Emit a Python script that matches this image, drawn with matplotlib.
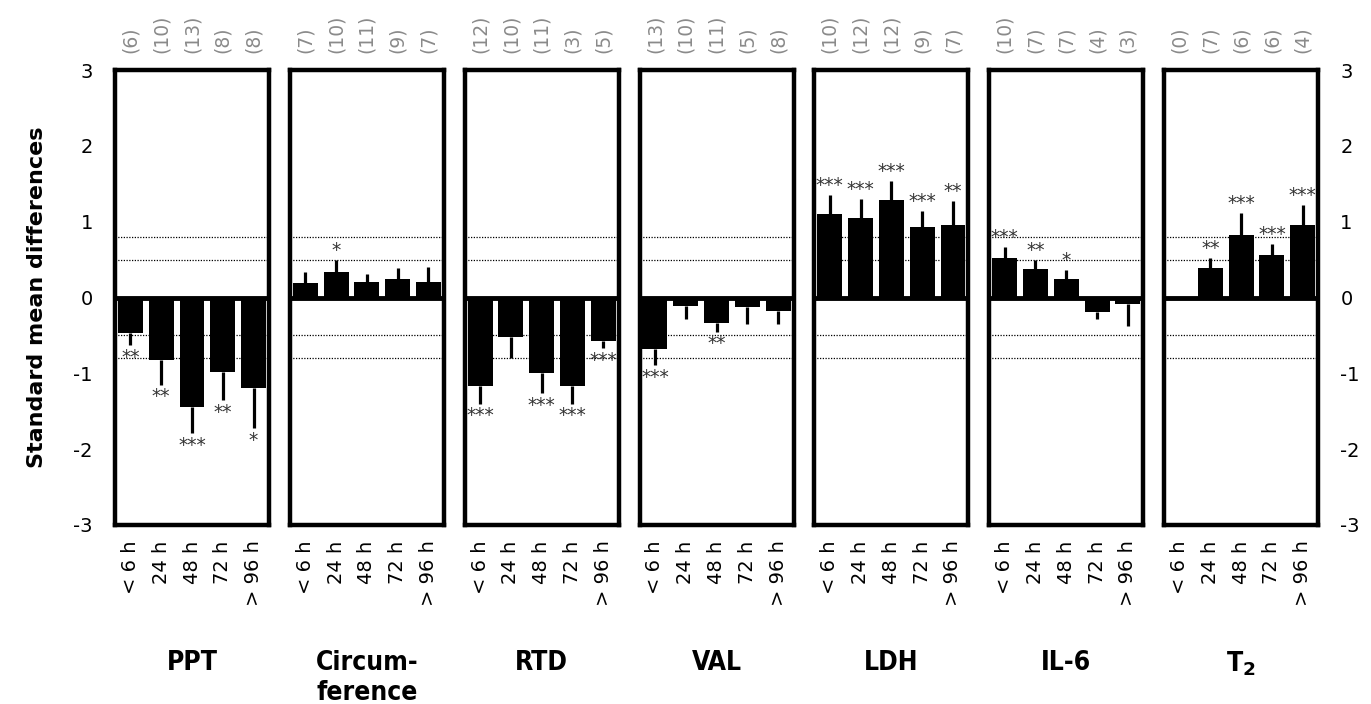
import matplotlib
matplotlib.use("Agg")
import matplotlib.pyplot as plt
import numpy as np
from matplotlib import font_manager

# ---------------- data ----------------
categories = ['PPT', 'Circum-\nference', 'RTD', 'VAL', 'LDH', 'IL-6', r'T$_\mathbf{2}$']
time_labels = ['< 6 h', '24 h', '48 h', '72 h', '> 96 h']

ppt_mean = [-0.47, -0.82, -1.45, -0.98, -1.19]
ppt_err = [0.16, 0.33, 0.34, 0.37, 0.53]
ppt_n = [6, 10, 13, 8, 8]
ppt_sig = ['**', '**', '***', '**', '*']

circ_mean = [0.19, 0.34, 0.20, 0.25, 0.21]
circ_err = [0.15, 0.15, 0.11, 0.135, 0.19]
circ_n = [7, 10, 11, 9, 7]
circ_sig = ['', '*', '', '', '']

rtd_mean = [-1.17, -0.52, -1.00, -1.17, -0.57]
rtd_err = [0.23, 0.28, 0.26, 0.23, 0.10]
rtd_n = [12, 10, 11, 3, 5]
rtd_sig = ['***', '', '***', '***', '***']

val_mean = [-0.68, -0.11, -0.34, -0.12, -0.18]
val_err = [0.21, 0.17, 0.11, 0.23, 0.17]
val_n = [13, 10, 11, 5, 8]
val_sig = ['***', '', '**', '', '']

ldh_mean = [1.10, 1.05, 1.29, 0.93, 0.96]
ldh_err = [0.25, 0.25, 0.24, 0.21, 0.31]
ldh_n = [10, 12, 12, 9, 7]
ldh_sig = ['***', '***', '***', '***', '**']

il6_mean = [0.52, 0.37, 0.25, -0.19, -0.08]
il6_err = [0.15, 0.12, 0.11, 0.10, 0.30]
il6_n = [10, 7, 7, 4, 3]
il6_sig = ['***', '**', '*', '', '']

t2_mean = [0.0, 0.385, 0.83, 0.56, 0.95]
t2_err = [0.0, 0.135, 0.28, 0.14, 0.27]
t2_n = [0, 7, 6, 6, 4]
t2_sig = ['', '**', '***', '***', '***']

means = [ppt_mean, circ_mean, rtd_mean, val_mean, ldh_mean, il6_mean, t2_mean]
errs = [ppt_err, circ_err, rtd_err, val_err, ldh_err, il6_err, t2_err]
ns = [ppt_n, circ_n, rtd_n, val_n, ldh_n, il6_n, t2_n]
sigs = [ppt_sig, circ_sig, rtd_sig, val_sig, ldh_sig, il6_sig, t2_sig]

y_ticks = [-3, -2, -1, 0, 1, 2, 3]
ref_lines = [-0.8, -0.5, 0.5, 0.8]

# ---------------- style ----------------
plt.rcParams['font.family'] = ['DejaVu Sans']

installed = {f.name for f in font_manager.fontManager.ttflist}
if 'Liberation Sans Narrow' in installed:
    cat_family = 'Liberation Sans Narrow'
    cat_stretch = 'normal'
elif 'DejaVu Sans Condensed' in installed:
    cat_family = 'DejaVu Sans Condensed'
    cat_stretch = 'condensed'
else:
    cat_family = 'DejaVu Sans'
    cat_stretch = 'condensed'

plt.rcParams['mathtext.fontset'] = 'custom'
plt.rcParams['mathtext.bf'] = cat_family + ':bold'
plt.rcParams['mathtext.rm'] = cat_family + ':bold'

W, H = 1371, 704
fig = plt.figure(figsize=(W / 100, H / 100), dpi=100)

left0, step, width = 115, 174.85, 154
top_px, bot_px = 70, 525

for k in range(7):
    l = (left0 + k * step) / W
    ax = fig.add_axes([l, 1 - bot_px / H, width / W, (bot_px - top_px) / H])
    x = np.arange(5)
    m = np.array(means[k])
    e = np.array(errs[k])
    for yv in ref_lines:
        ax.axhline(yv, color='black', lw=0.9, ls=(0, (1, 1.2)), zorder=1)
    ax.bar(x, m, width=0.81, color='black', zorder=2)
    lower = np.where(m < 0, e, 0)
    upper = np.where(m >= 0, e, 0)
    ax.errorbar(x, m, yerr=[lower, upper], fmt='none', ecolor='black',
                elinewidth=2.3, capsize=0, zorder=2)
    ax.axhline(0, color='black', lw=3.5, zorder=3)
    for i in range(5):
        s = sigs[k][i]
        if s:
            end = m[i] + (e[i] if m[i] >= 0 else -e[i])
            if m[i] >= 0:
                ax.annotate(s, (x[i], end), xytext=(0, 0), textcoords='offset points',
                            ha='center', va='bottom', fontsize=13.5, color='#333333',
                            zorder=4, annotation_clip=False)
            else:
                ax.annotate(s, (x[i], end), xytext=(0, -2), textcoords='offset points',
                            ha='center', va='top', fontsize=13.5, color='#333333',
                            zorder=4, annotation_clip=False)
        ax.annotate('(%d)' % ns[k][i], (x[i], 3), xytext=(0, 12), textcoords='offset points',
                    ha='center', va='bottom', rotation=90, fontsize=13.5, color='#8a8a8a',
                    annotation_clip=False)
    ax.set_xlim(-0.5, 4.5)
    ax.set_ylim(-3, 3)
    ax.set_xticks(x)
    ax.set_xticklabels(time_labels, rotation=90, fontsize=14, va='top', ha='center')
    ax.tick_params(axis='x', length=0, pad=11)
    ax.set_yticks(y_ticks)
    ax.set_yticklabels([str(t) for t in y_ticks], fontsize=14)
    if k == 0:
        ax.tick_params(axis='y', length=0, pad=16, left=True, labelleft=True)
    elif k == 6:
        ax.tick_params(axis='y', length=0, pad=16, left=False, labelleft=False,
                       right=True, labelright=True)
    else:
        ax.tick_params(axis='y', length=0, left=False, labelleft=False)
    for sp in ax.spines.values():
        sp.set_linewidth(3.2)
        sp.set_zorder(5)
    cx = (left0 + k * step + width / 2) / W
    fig.text(cx, 1 - 650 / H, categories[k], ha='center', va='top', fontsize=19,
             fontweight='bold', family=cat_family, fontstretch=cat_stretch,
             linespacing=1.2)

fig.text(37 / W, 1 - 297 / H, 'Standard mean differences', rotation=90,
         ha='center', va='center', fontsize=16, fontweight='bold')

fig.savefig('out.png', dpi=100)
